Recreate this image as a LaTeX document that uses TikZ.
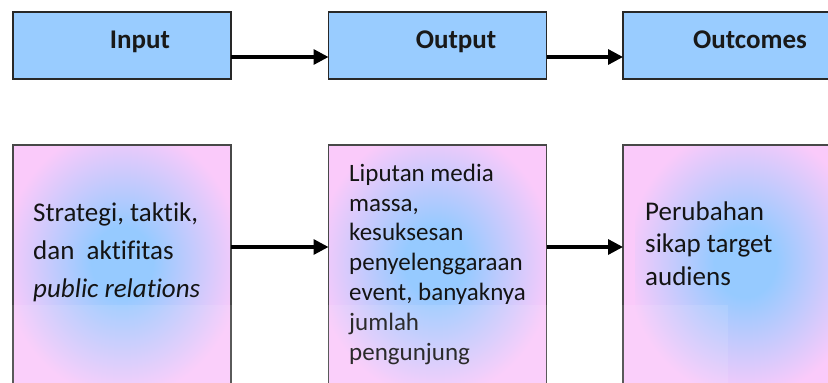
\documentclass[tikz,border=0pt]{standalone}
\usepackage{fontspec}
\setmainfont{Carlito}[Ligatures=NoCommon]
\usetikzlibrary{arrows.meta}
\definecolor{topblue}{RGB}{153,204,255}
\definecolor{pinkC}{RGB}{250,202,250}
\definecolor{blueC}{RGB}{150,202,255}
\definecolor{edgeC}{RGB}{40,40,40}
\pgfdeclareradialshading{pbshade}{\pgfpoint{0bp}{0bp}}{color(0bp)=(blueC); color(7bp)=(blueC); color(27bp)=(pinkC); color(50bp)=(pinkC)}
\begin{document}
\begin{tikzpicture}[x=1pt,y=-1pt,
  topbox/.style={draw=edgeC, line width=1.2pt, fill=topblue, minimum width=218pt, minimum height=67pt, inner sep=0pt, outer sep=0pt},
  botbox/.style={draw=edgeC!85, line width=1.2pt, fill=pinkC, minimum width=218pt, minimum height=275pt, inner sep=0pt, outer sep=0pt},
  flow/.style={line width=3.3pt, -{Triangle[length=15pt,width=15pt]}},
  toplabel/.style={font=\fontsize{27}{32}\selectfont\bfseries, anchor=base, inner sep=0pt, text=black!90},
  btext/.style={anchor=base west, align=left, inner sep=0pt, text=black!92},
]
\clip (0,0) rectangle (828,383);
% top row
\node[topbox] (in) at (122,45.5) {};
\node[topbox] (out) at (437.5,45.5) {};
\node[topbox] (oc) at (732,45.5) {};
\node[toplabel] (inL) at (140,48) {Input};
\node[toplabel] (outL) at (456,48) {Output};
\node[toplabel] (ocL) at (750,48) {Outcomes};
\draw[flow] ([yshift=-11.5pt]in.east) -- ([yshift=-11.5pt]out.west);
\draw[flow] ([yshift=-11.5pt]out.east) -- ([yshift=-11.5pt]oc.west);
% bottom row
\node[botbox] (b1) at (122,282.5) {};
\node[botbox] (b2) at (437.5,282.5) {};
\node[botbox] (b3) at (732,282.5) {};
\begin{scope}
\clip (b1.south west) rectangle (b1.north east);
\shade[shading=pbshade] (12,137) rectangle (232,387);
\end{scope}
\begin{scope}
\clip (b2.south west) rectangle (b2.north east);
\shade[shading=pbshade] (325,137) rectangle (545,387);
\end{scope}
\begin{scope}
\clip (b3.south west) rectangle (b3.north east);
\shade[shading=pbshade] (635,137) rectangle (855,387);
\end{scope}
\draw[edgeC!85, line width=1.2pt] (b1.south west) rectangle (b1.north east);
\draw[edgeC!85, line width=1.2pt] (b2.south west) rectangle (b2.north east);
\draw[edgeC!85, line width=1.2pt] (b3.south west) rectangle (b3.north east);
\node[btext, font=\fontsize{27}{38}\selectfont] (t1) at (33,297) {Strategi, taktik,\\dan\ \ aktifitas\\\textit{public relations}};
\node[btext, font=\fontsize{25}{29.8}\selectfont] (t2) at (349,360) {Liputan media\\massa,\\kesuksesan\\penyelenggaraan\\event, banyaknya\\jumlah\\pengunjung};
\node[btext, font=\fontsize{27}{32.5}\selectfont] (t3) at (645,285) {Perubahan\\sikap target\\audiens};
\draw[flow] ([yshift=35.5pt]b1.east) -- ([yshift=35.5pt]b2.west);
\draw[flow] ([yshift=35.5pt]b2.east) -- ([yshift=35.5pt]b3.west);
% faint lighter band at the bottom
\fill[white, opacity=0.1] (0,305) rectangle (728,390);
\end{tikzpicture}
\end{document}
